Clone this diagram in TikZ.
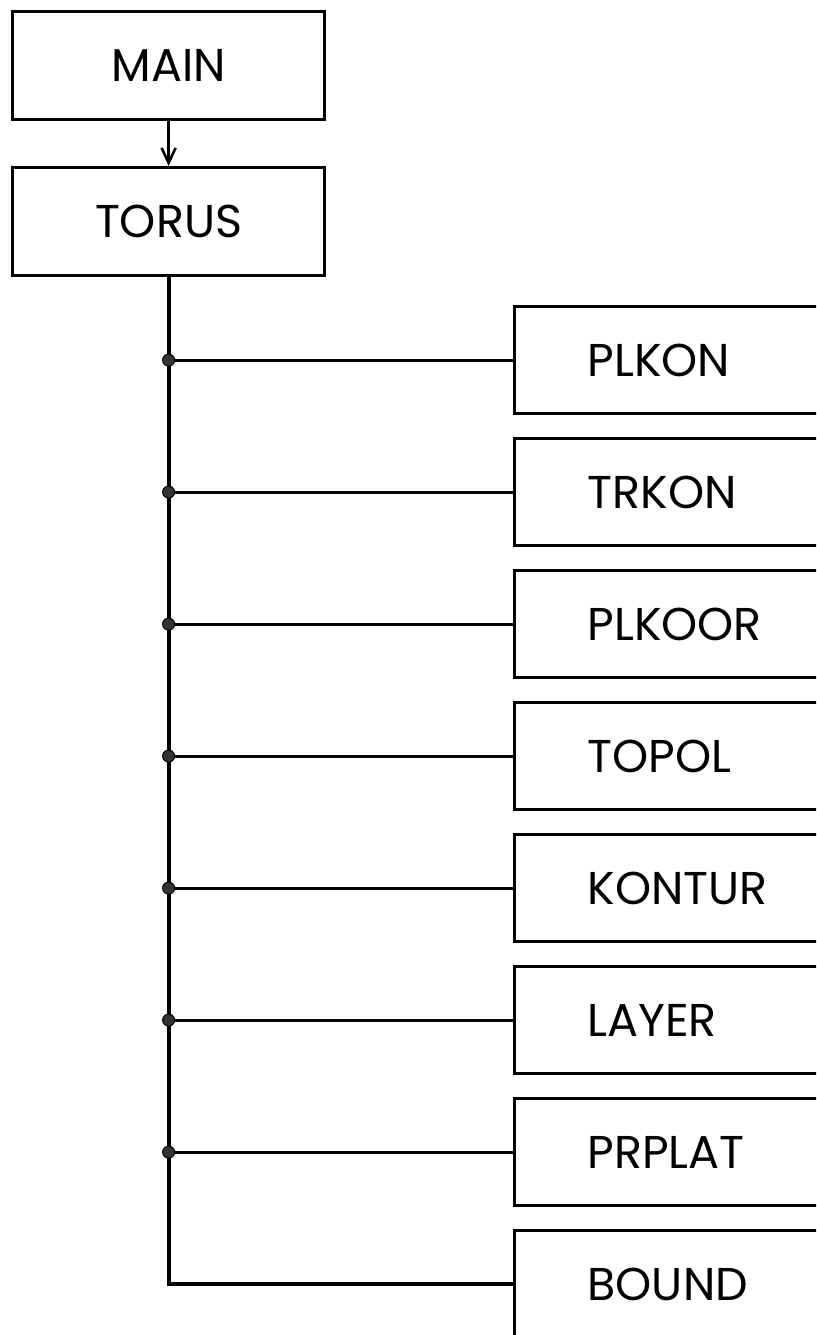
\documentclass[tikz,border=0pt]{standalone}
\usepackage{fontspec}
\setmainfont{Poppins}
\usetikzlibrary{arrows.meta}
\begin{document}
\begin{tikzpicture}[x=1pt,y=-1pt,
  box/.style={draw, line width=3.2pt, inner sep=0pt, font=\fontsize{46}{50}\selectfont},
  topbox/.style={box, minimum width=312pt, minimum height=108pt, anchor=north west},
  sub/.style={box, anchor=north west, minimum height=107pt, text width=220pt,
    inner xsep=73pt, align=left},
  link/.style={line width=2.8pt},
  junction/.style={circle, fill=black!80, draw=black, line width=1pt, minimum size=12pt, inner sep=0pt}
]
\useasboundingbox (0,0) rectangle (816,1335);
\clip (0,0) rectangle (816,1335);

% caller and driver
\node[topbox] (main) at (11,10) {MAIN};
\node[topbox] (torus) at (11,166) {TORUS};
\draw[link, -{Straight Barb[length=15pt,width=14pt,line width=2.6pt]}] (main.south) -- (torus.north);

% subroutines called from TORUS
\node[sub] (plkon)  at (513,305)  {PLKON};
\node[sub] (trkon)  at (513,437)  {TRKON};
\node[sub] (plkoor) at (513,569)  {PLKOOR};
\node[sub] (topol)  at (513,701)  {TOPOL};
\node[sub] (kontur) at (513,833)  {KONTUR};
\node[sub] (layer)  at (513,965)  {LAYER};
\node[sub] (prplat) at (513,1097) {PRPLAT};
\node[sub] (bound)  at (513,1229) {BOUND};

% trunk from TORUS down to the last call
\draw[line width=3.8pt] (torus.south) |- (bound.west);

% branches with junction dots
\foreach \n in {plkon,trkon,plkoor,topol,kontur,layer,prplat}{
  \coordinate (j-\n) at (torus.south |- \n.west);
  \draw[link] (j-\n) -- (\n.west);
  \node[junction] at (j-\n) {};
}
\end{tikzpicture}
\end{document}
